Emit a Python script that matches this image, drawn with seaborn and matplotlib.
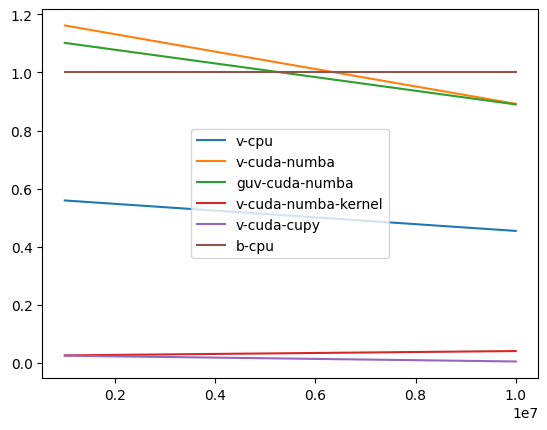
import pandas as pd
import matplotlib
matplotlib.use("Agg")
import matplotlib.pyplot as plt
import seaborn as sns

# problem sizes
sizes = [1e6, 1e7]

# timing ratios per implementation
v_cpu = [0.559, 0.454]
v_cuda_numba = [1.162, 0.892]
guv_cuda_numba = [1.102, 0.890]
v_cuda_numba_kernel = [0.025, 0.040]
v_cuda_cupy = [0.024, 0.004]
b_cpu = [1.0, 1.0]

names = ["v-cpu", "v-cuda-numba", "guv-cuda-numba",
         "v-cuda-numba-kernel", "v-cuda-cupy", "b-cpu"]
series = [v_cpu, v_cuda_numba, guv_cuda_numba,
          v_cuda_numba_kernel, v_cuda_cupy, b_cpu]

rows = []
for name, vals in zip(names, series):
    for n, v in zip(sizes, vals):
        rows.append({"size": n, "ratio": v, "method": name})
df = pd.DataFrame(rows)

fig = plt.figure(figsize=(5.47, 4.31), dpi=100)
ax = fig.add_axes([0.0773, 0.12, 0.9068, 0.8575])
sns.lineplot(data=df, x="size", y="ratio", hue="method", hue_order=names,
             palette="tab10", ax=ax)
ax.set_xlabel("")
ax.set_ylabel("")
ax.legend(loc="center")

fig.savefig("out.png", dpi=100)
